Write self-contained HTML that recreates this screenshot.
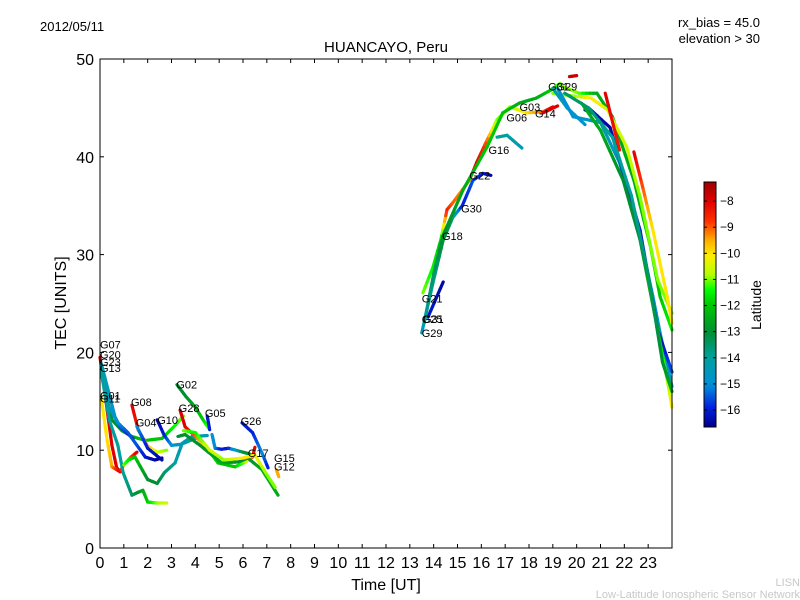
<!DOCTYPE html>
<html><head><meta charset="utf-8"><style>
body{margin:0;background:#fff;}
svg{display:block;font-family:"Liberation Sans","DejaVu Sans",sans-serif;}
</style></head><body>
<svg id="chart" width="800" height="600" viewBox="0 0 800 600">
<rect x="0" y="0" width="800" height="600" fill="#fff"/>
<text x="40" y="31" font-size="13">2012/05/11</text>
<text x="386" y="52" font-size="15" text-anchor="middle">HUANCAYO, Peru</text>
<text x="760" y="27" font-size="13" text-anchor="end">rx_bias = 45.0</text>
<text x="760" y="43" font-size="13" text-anchor="end">elevation &gt; 30</text>
<text x="386" y="590" font-size="16" text-anchor="middle">Time [UT]</text>
<text x="66" y="303" font-size="16" text-anchor="middle" transform="rotate(-90 66 303)">TEC [UNITS]</text>
<text x="800" y="586" font-size="11" fill="#c8c8c8" text-anchor="end">LISN</text>
<text x="800" y="598" font-size="11" fill="#c8c8c8" text-anchor="end">Low-Latitude Ionospheric Sensor Network</text>
<g id="marks"></g>
<g id="axes"></g>
<g id="cbar"></g>
</svg>
<script>
const xTicks=[0,1,2,3,4,5,6,7,8,9,10,11,12,13,14,15,16,17,18,19,20,21,22,23];
const yTicks=[0,10,20,30,40,50];
const cbTicks=[-8,-9,-10,-11,-12,-13,-14,-15,-16];
const trackTimes=[
[0,0.25,0.5,0.7,0.85],
[0.05,0.3,0.5,0.84,1.0,1.3,1.55],
[0.05,0.5,0.92,1.34,1.9,2.6,3.1,3.5],
[0.05,0.42,0.63,0.84,1.38],
[0.05,0.35,0.75,1.17,1.55,1.9,2.3,2.6],
[0.05,0.4,0.75,0.97,1.34,1.6,1.8,2.0,2.4,2.8],
[1.0,1.2,1.47,2.0,2.4,2.7,3.15,3.45,3.86,4.5],
[1.34,1.6,2.0,2.4,2.8],
[1.55,2.0,2.6],
[2.4,2.7,3.0,3.4,3.8,4.2],
[3.23,3.6,4.0,4.3,4.6],
[3.36,3.57,4.0,4.4,4.95,5.67,6.1,6.4,6.5],
[4.5,4.6],
[4.7,4.83,5.1,5.4,6.0,6.3],
[5.96,6.4,6.8,7.05],
[3.27,3.57,4.2,5.1,5.8,6.2,6.8,7.47],
[3.5,4.0,4.6,5.2,6.0,6.5,7.0,7.35],
[7.4,7.5],
[13.55,13.97,14.3,14.56,14.8,15.5,15.8,16.24,16.66,17.2,17.9,18.6,19.0],
[13.76,14.4],
[13.5,13.97,14.4,14.8,15.2,15.65,16.07,16.4],
[13.6,14.0,14.4,15.23,16.24,16.9,17.6,18.3,18.9,19.3],
[16.66,17.08,17.7],
[18.6,19.2],
[19.7,20.0],
[19.3,20.1,20.85,21.5,22.4,23.1,23.5,24],
[19.0,19.9,20.6,21.3,22.1,22.66,23.4,24],
[21.2,21.8],
[22.4,22.8,23.2,23.8,24],
[19.0,19.6,20.35],
[20.35,20.6],
[19.2,19.85,21,21.8,22.5,23.2,23.5,24],
[20.5,21.4,22.66,23.4,24],
[20.2,21,21.95,22.66,23.4,23.8,24],
[19.5,20.5,21.5,22.3,23,23.6,24]
];
const trackTec=[
[19.5,15,10.5,8.2,7.8],
[15.4,11,8.3,7.8,8.5,9.3,9.8],
[17.9,13.1,12,11.4,11,11.2,12.4,13.5],
[18.9,15.4,13.4,12.4,11.2],
[18.5,14.5,12.8,11.8,10.5,9.3,9.0,9.2],
[18,13,10.5,7.7,5.4,5.7,5.9,4.7,4.6,4.6],
[8.5,9.0,9.3,7.0,6.6,7.7,8.7,10.7,11.4,11.5],
[14.6,12.1,10.4,9.8,10],
[12.4,10.2,9.0],
[13.1,11.5,10.5,10.6,11,11.4],
[16.7,15.5,14.4,13.2,12.1],
[14.1,12.4,11.4,10.5,8.7,8.3,8.8,9.3,10.3],
[13.5,12.1],
[11.6,10.2,10.1,10.2,9.8,9.6],
[12.8,11.8,9.7,8.2],
[11.4,11.6,10.5,8.7,8.8,9.2,8.0,5.4],
[12,11.8,10,9,9.2,9.5,7.5,6.2],
[8.0,7.3],
[26.1,28.7,31.5,34.6,35.3,37.6,39.4,41.7,43.8,45.1,44.5,44.6,45.1],
[23.6,27.2],
[22,27.1,31.5,33.8,35,37.6,38.3,38.1],
[23,28,32,36.6,41,44.5,45.5,46,46.8,47.5],
[42,42.2,40.9],
[44.5,45.2],
[48.2,48.3],
[47.3,46.5,46.5,44.1,37.6,30.8,25.7,22.3],
[46.5,46.2,46.0,44.8,41,35.9,27.4,24],
[46.5,40.7],
[40.5,36.6,32.5,25.7,23],
[47,45,43.3],
[44.8,44.5],
[47,44.1,43.5,39.4,33.5,25.7,22,16.5],
[45,43,32.5,22.3,18],
[45.5,42.7,37.6,31.5,22.3,17.2,14.4],
[46.5,45,42,36,28,19,16]
];
const trackLat=[
[-8,-8,-8,-8,-8],
[-10,-10,-9.5,-8,-9.5,-9,-8],
[-13,-13,-13,-12.5,-12,-12,-11.5,-11],
[-14.5,-14.5,-15,-15.5,-16.5],
[-14,-14.5,-15,-15.5,-15.5,-16,-16.5,-16.5],
[-14,-14,-14,-14,-13.5,-13,-12.5,-12,-11,-10.5],
[-11,-11.5,-12,-13,-13,-13.5,-14,-14.5,-14.5,-14.5],
[-8,-8.5,-9.5,-10.5,-11],
[-15,-16,-16.5],
[-16.5,-16,-15,-14.5,-14,-14],
[-13,-13,-12.5,-12,-11],
[-8,-8,-9,-10,-12,-12,-11,-9,-8],
[-16,-16],
[-15,-15,-16,-16,-13,-13],
[-16,-16,-15,-16],
[-13,-13,-13,-12.5,-13,-13,-12.5,-12.5],
[-11,-11.5,-10.5,-11,-10,-10,-11,-11],
[-9.5,-9.5],
[-11,-11.5,-12,-8.5,-9,-9.5,-8,-9,-11,-11,-10,-9,-8],
[-16,-16.5],
[-14.5,-14,-13,-13.5,-16,-15.5,-16,-16.5],
[-14,-13.5,-13,-12.5,-12,-12,-12.5,-12.5,-12,-11],
[-14,-14,-14.5],
[-8,-8],
[-7.8,-7.8],
[-11,-11,-12.5,-12.5,-12.5,-12,-12,-11.5],
[-11,-11,-10,-10.5,-10.5,-11,-11,-11],
[-8,-8.5],
[-8,-9,-10,-10,-10],
[-14,-14.5,-15],
[-16.5,-16.5],
[-15,-15,-14.5,-14.5,-15,-15,-14.5,-14.5],
[-16,-16.5,-16,-16.5,-15.5],
[-12.5,-12.5,-13,-13,-12,-11,-10],
[-13.5,-13.5,-14,-14,-13.5,-13,-12.5]
];
const prnLabels=["G07","G20","G23","G13","G01","G11","G08","G04","G10","G02","G28","G05","G26","G17","G15","G12","G21","G25","G31","G29","G18","G30","G22","G16","G06","G03","G14","G31","G29"];
const labelTimes=[0,0,0,0,0,0,1.3,1.5,2.4,3.2,3.3,4.4,5.9,6.2,7.3,7.3,13.5,13.5,13.55,13.5,14.35,15.15,15.5,16.3,17.05,17.6,18.25,18.8,19.15];
const labelTec=[20.4,19.4,18.6,18.0,15.2,14.9,14.5,12.4,12.7,16.3,13.9,13.4,12.6,9.3,8.8,7.9,25.1,23.0,23.0,21.6,31.5,34.3,37.7,40.3,43.6,44.7,44.0,46.8,46.8];

const X0=100,X1=672,Y0=59,Y1=548,TMAX=24,VMAX=50;
const LMIN=-16.65,LMAX=-7.27;
function xs(t){return X0+(X1-X0)*t/TMAX;}
function ys(v){return Y1-(Y1-Y0)*v/VMAX;}
const cmapStops=[[0,[0,0,140]],[0.08,[0,32,224]],[0.17,[0,144,216]],[0.28,[0,160,160]],[0.39,[0,144,48]],[0.5,[0,200,0]],[0.56,[0,255,0]],[0.62,[176,255,0]],[0.7,[255,238,0]],[0.76,[255,176,0]],[0.84,[255,48,0]],[0.92,[224,0,0]],[1,[160,0,0]]];
function cmap(v){
  v=Math.max(0,Math.min(1,v));
  for(let i=0;i<cmapStops.length-1;i++){
    const [a,ca]=cmapStops[i],[b,cb]=cmapStops[i+1];
    if(v>=a&&v<=b){const f=(v-a)/(b-a);
      return `rgb(${Math.round(ca[0]+(cb[0]-ca[0])*f)},${Math.round(ca[1]+(cb[1]-ca[1])*f)},${Math.round(ca[2]+(cb[2]-ca[2])*f)})`;}
  }
  return 'rgb(160,0,0)';
}
function latColor(l){return cmap((l-LMIN)/(LMAX-LMIN));}
const NS="http://www.w3.org/2000/svg";
function mk(tag,attrs,parent){const e=document.createElementNS(NS,tag);for(const k in attrs)e.setAttribute(k,attrs[k]);parent.appendChild(e);return e;}

const marks=document.getElementById('marks');
for(let i=0;i<trackTimes.length;i++){
  const g=mk('g',{},marks);
  
  
  const T=trackTimes[i],V=trackTec[i],L=trackLat[i];
  for(let j=0;j<T.length-1;j++){
    const n=5;
    for(let k=0;k<n;k++){
      const a=k/n,b=(k+1)/n;
      const t1=T[j]+(T[j+1]-T[j])*a,t2=T[j]+(T[j+1]-T[j])*b;
      const v1=V[j]+(V[j+1]-V[j])*a,v2=V[j]+(V[j+1]-V[j])*b;
      const l=L[j]+(L[j+1]-L[j])*(a+b)/2;
      const s=mk('line',{x1:xs(t1),y1:ys(v1),x2:xs(t2),y2:ys(v2),stroke:latColor(l),'stroke-width':3.2,'stroke-linecap':'round'},g);
      
      
    }
  }
}
for(let i=0;i<prnLabels.length;i++){
  const t=mk('text',{x:xs(labelTimes[i]),y:ys(labelTec[i]),'font-size':11,fill:'#000'},marks);
  t.textContent=prnLabels[i];
  
  
}

const axes=document.getElementById('axes');
const frame=mk('rect',{x:X0,y:Y0,width:X1-X0,height:Y1-Y0,fill:'none',stroke:'#000','stroke-width':1},axes);


for(const t of xTicks){
  const x=xs(t);
  mk('line',{x1:x,y1:Y1,x2:x,y2:Y1-4,stroke:'#000'},axes);
  mk('line',{x1:x,y1:Y0,x2:x,y2:Y0+4,stroke:'#000'},axes);
  const lb=mk('text',{x:x,y:Y1+20,'font-size':16,'text-anchor':'middle'},axes);
  lb.textContent=t;
  
  
}
for(const v of yTicks){
  const y=ys(v);
  mk('line',{x1:X0,y1:y,x2:X0+4,y2:y,stroke:'#000'},axes);
  mk('line',{x1:X1,y1:y,x2:X1-4,y2:y,stroke:'#000'},axes);
  const lb=mk('text',{x:X0-6,y:y+6,'font-size':16,'text-anchor':'end'},axes);
  lb.textContent=v;
  
  
}

const cb=document.getElementById('cbar');
const CX=704,CW=12,CY0=182,CY1=427;
const grad=mk('defs',{},cb);
const lg=mk('linearGradient',{id:'cmapg',x1:0,y1:1,x2:0,y2:0},grad);
for(let k=0;k<=50;k++){mk('stop',{offset:k/50,'stop-color':cmap(k/50)},lg);}
const cbr=mk('rect',{x:CX,y:CY0,width:CW,height:CY1-CY0,fill:'url(#cmapg)',stroke:'#000','stroke-width':1},cb);


for(const l of cbTicks){
  const y=CY1-(CY1-CY0)*(l-LMIN)/(LMAX-LMIN);
  mk('line',{x1:CX,y1:y,x2:CX+3,y2:y,stroke:'#000'},cb);
  mk('line',{x1:CX+CW,y1:y,x2:CX+CW-3,y2:y,stroke:'#000'},cb);
  const lb=mk('text',{x:CX+CW+4,y:y+4,'font-size':12},cb);
  lb.textContent='\u2212'+Math.abs(l);
  
  
}
const ct=mk('text',{x:761,y:305,'font-size':14,'text-anchor':'middle',transform:'rotate(-90 761 305)'},cb);
ct.textContent='Latitude';


</script>
</body></html>
